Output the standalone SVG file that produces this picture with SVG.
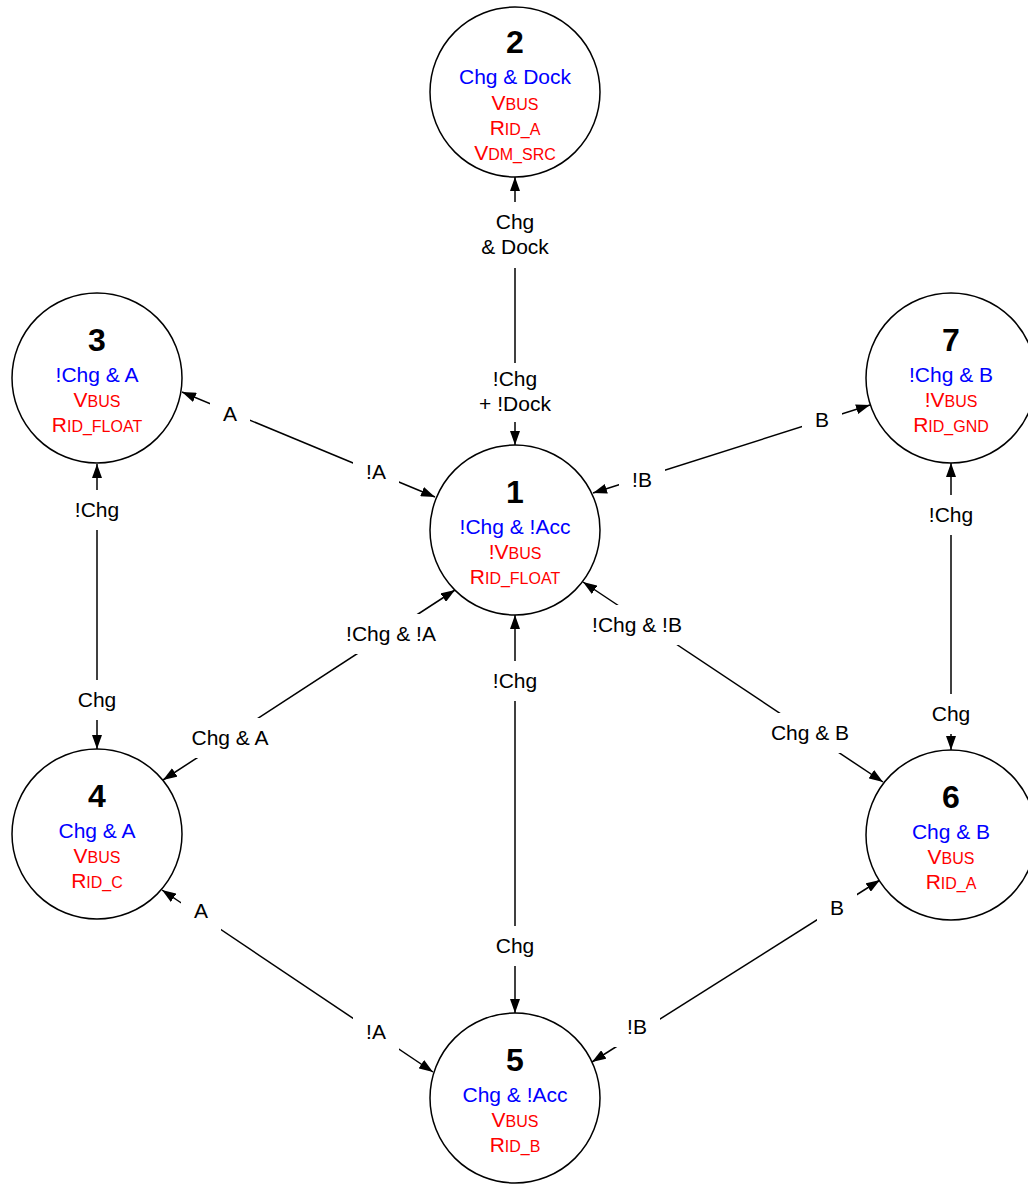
<svg xmlns="http://www.w3.org/2000/svg" width="1028" height="1184" viewBox="0 0 1028 1184">
<defs>
<marker id="ah" viewBox="0 0 14 10" refX="14" refY="5" markerWidth="14" markerHeight="10" markerUnits="userSpaceOnUse" orient="auto-start-reverse"><path d="M0,0 L14,5 L0,10 z" fill="#000"/></marker>
<style>
.e{stroke:#000;stroke-width:1.5;fill:none;marker-start:url(#ah);marker-end:url(#ah)}
.bg{fill:#fff}
.l{font-family:"Liberation Sans",Arial,sans-serif;font-size:21px;fill:#000;text-anchor:middle}
.c{fill:#fff;stroke:#000;stroke-width:1.5}
.num{font-family:"Liberation Sans",Arial,sans-serif;font-size:32px;font-weight:bold;fill:#000;text-anchor:middle}
.b{font-family:"Liberation Sans",Arial,sans-serif;font-size:21px;fill:#0000FF;text-anchor:middle}
.r{font-family:"Liberation Sans",Arial,sans-serif;font-size:21px;fill:#FF0000;text-anchor:middle}
.s{font-size:16px}
</style>
</defs>
<rect width="1028" height="1184" fill="#fff"/>
<g id="connectors">
 <g id="e1-2">
  <line class="e" x1="515" y1="445" x2="515" y2="177"/>
  <rect class="bg" x="470" y="202" width="90" height="66"/>
  <text class="l" x="515" y="229">Chg</text>
  <text class="l" x="515" y="254">&amp; Dock</text>
  <rect class="bg" x="470" y="363" width="90" height="59"/>
  <text class="l" x="515" y="386">!Chg</text>
  <text class="l" x="515" y="411">+ !Dock</text>
 </g>
 <g id="e1-3">
  <line class="e" x1="435" y1="497" x2="182" y2="392"/>
  <rect class="bg" x="210" y="394" width="40" height="40"/>
  <text class="l" x="230" y="421">A</text>
  <rect class="bg" x="353" y="452" width="46" height="40"/>
  <text class="l" x="376" y="479">!A</text>
 </g>
 <g id="e1-7">
  <line class="e" x1="593" y1="493" x2="870" y2="405"/>
  <rect class="bg" x="802" y="400" width="40" height="40"/>
  <text class="l" x="822" y="427">B</text>
  <rect class="bg" x="619" y="460" width="46" height="40"/>
  <text class="l" x="642" y="487">!B</text>
 </g>
 <g id="e3-4">
  <line class="e" x1="97" y1="464" x2="97" y2="749"/>
  <rect class="bg" x="62" y="490" width="70" height="40"/>
  <text class="l" x="97" y="517">!Chg</text>
  <rect class="bg" x="65" y="680" width="64" height="40"/>
  <text class="l" x="97" y="707">Chg</text>
 </g>
 <g id="e7-6">
  <line class="e" x1="951" y1="463" x2="951" y2="750"/>
  <rect class="bg" x="916" y="495" width="70" height="40"/>
  <text class="l" x="951" y="522">!Chg</text>
  <rect class="bg" x="919" y="694" width="64" height="40"/>
  <text class="l" x="951" y="721">Chg</text>
 </g>
 <g id="e1-4">
  <line class="e" x1="455" y1="590" x2="163" y2="780"/>
  <rect class="bg" x="333" y="614" width="116" height="40"/>
  <text class="l" x="391" y="641">!Chg &amp; !A</text>
  <rect class="bg" x="178" y="718" width="104" height="40"/>
  <text class="l" x="230" y="745">Chg &amp; A</text>
 </g>
 <g id="e1-6">
  <line class="e" x1="583" y1="582" x2="883" y2="782"/>
  <rect class="bg" x="579" y="605" width="116" height="40"/>
  <text class="l" x="637" y="632">!Chg &amp; !B</text>
  <rect class="bg" x="758" y="713" width="104" height="40"/>
  <text class="l" x="810" y="740">Chg &amp; B</text>
 </g>
 <g id="e1-5">
  <line class="e" x1="515" y1="615" x2="515" y2="1013"/>
  <rect class="bg" x="480" y="661" width="70" height="40"/>
  <text class="l" x="515" y="688">!Chg</text>
  <rect class="bg" x="483" y="926" width="64" height="40"/>
  <text class="l" x="515" y="953">Chg</text>
 </g>
 <g id="e4-5">
  <line class="e" x1="162" y1="890" x2="433" y2="1072"/>
  <rect class="bg" x="181" y="891" width="40" height="40"/>
  <text class="l" x="201" y="918">A</text>
  <rect class="bg" x="353" y="1012" width="46" height="40"/>
  <text class="l" x="376" y="1039">!A</text>
 </g>
 <g id="e6-5">
  <line class="e" x1="880" y1="880" x2="592" y2="1062"/>
  <rect class="bg" x="817" y="888" width="40" height="40"/>
  <text class="l" x="837" y="915">B</text>
  <rect class="bg" x="614" y="1007" width="46" height="40"/>
  <text class="l" x="637" y="1034">!B</text>
 </g>
</g>
<g id="node1">
 <circle class="c" cx="515" cy="530" r="85"/>
 <text class="num" x="515" y="503">1</text>
 <text class="b" x="515" y="534">!Chg &amp; !Acc</text>
 <text class="r" x="515" y="559">!V<tspan class="s">BUS</tspan></text>
 <text class="r" x="515" y="584">R<tspan class="s">ID_FLOAT</tspan></text>
</g>
<g id="node2">
 <circle class="c" cx="515" cy="92" r="85"/>
 <text class="num" x="515" y="53">2</text>
 <text class="b" x="515" y="84">Chg &amp; Dock</text>
 <text class="r" x="515" y="110">V<tspan class="s">BUS</tspan></text>
 <text class="r" x="515" y="135">R<tspan class="s">ID_A</tspan></text>
 <text class="r" x="515" y="160">V<tspan class="s">DM_SRC</tspan></text>
</g>
<g id="node3">
 <circle class="c" cx="97" cy="378" r="85"/>
 <text class="num" x="97" y="351">3</text>
 <text class="b" x="97" y="382">!Chg &amp; A</text>
 <text class="r" x="97" y="407">V<tspan class="s">BUS</tspan></text>
 <text class="r" x="97" y="432">R<tspan class="s">ID_FLOAT</tspan></text>
</g>
<g id="node4">
 <circle class="c" cx="97" cy="834" r="85"/>
 <text class="num" x="97" y="807">4</text>
 <text class="b" x="97" y="838">Chg &amp; A</text>
 <text class="r" x="97" y="863">V<tspan class="s">BUS</tspan></text>
 <text class="r" x="97" y="888">R<tspan class="s">ID_C</tspan></text>
</g>
<g id="node5">
 <circle class="c" cx="515" cy="1098" r="85"/>
 <text class="num" x="515" y="1071">5</text>
 <text class="b" x="515" y="1102">Chg &amp; !Acc</text>
 <text class="r" x="515" y="1127">V<tspan class="s">BUS</tspan></text>
 <text class="r" x="515" y="1152">R<tspan class="s">ID_B</tspan></text>
</g>
<g id="node6">
 <circle class="c" cx="951" cy="835" r="85"/>
 <text class="num" x="951" y="808">6</text>
 <text class="b" x="951" y="839">Chg &amp; B</text>
 <text class="r" x="951" y="864">V<tspan class="s">BUS</tspan></text>
 <text class="r" x="951" y="889">R<tspan class="s">ID_A</tspan></text>
</g>
<g id="node7">
 <circle class="c" cx="951" cy="378" r="85"/>
 <text class="num" x="951" y="351">7</text>
 <text class="b" x="951" y="382">!Chg &amp; B</text>
 <text class="r" x="951" y="407">!V<tspan class="s">BUS</tspan></text>
 <text class="r" x="951" y="432">R<tspan class="s">ID_GND</tspan></text>
</g>
</svg>
